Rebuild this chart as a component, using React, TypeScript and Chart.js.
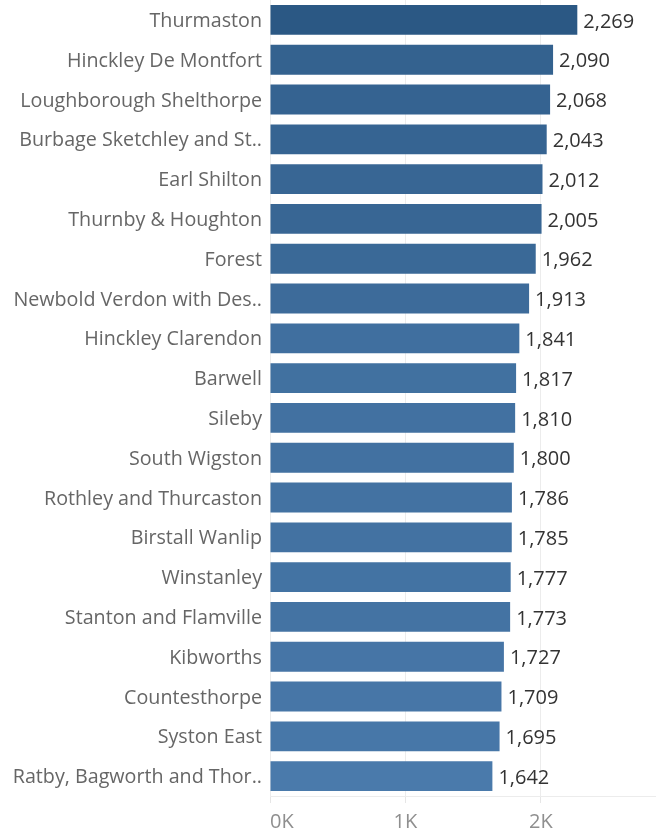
import React, { useEffect, useRef } from "react";
import { Chart, registerables } from "chart.js";

Chart.register(...registerables);

const wards: string[] = [
  "Thurmaston",
  "Hinckley De Montfort",
  "Loughborough Shelthorpe",
  "Burbage Sketchley and St..",
  "Earl Shilton",
  "Thurnby & Houghton",
  "Forest",
  "Newbold Verdon with Des..",
  "Hinckley Clarendon",
  "Barwell",
  "Sileby",
  "South Wigston",
  "Rothley and Thurcaston",
  "Birstall Wanlip",
  "Winstanley",
  "Stanton and Flamville",
  "Kibworths",
  "Countesthorpe",
  "Syston East",
  "Ratby, Bagworth and Thor..",
];

const values: number[] = [
  2269, 2090, 2068, 2043, 2012, 2005, 1962, 1913, 1841, 1817, 1810, 1800, 1786,
  1785, 1777, 1773, 1727, 1709, 1695, 1642,
];

const xTicks: number[] = [0, 1000, 2000];
const xMax = 2850;

const FONT = "'Open Sans', sans-serif";

function colorFor(v: number, lo: number, hi: number): string {
  const t = (v - lo) / (hi - lo);
  const light = [74, 122, 171];
  const dark = [43, 88, 132];
  const c = light.map((l, i) => Math.round(l + (dark[i] - l) * t));
  return `rgb(${c[0]},${c[1]},${c[2]})`;
}

const valueLabels = {
  id: "valueLabels",
  afterDatasetsDraw(chart: any) {
    const { ctx } = chart;
    const meta = chart.getDatasetMeta(0);
    ctx.save();
    ctx.font = `20px ${FONT}`;
    ctx.fillStyle = "#333333";
    ctx.textAlign = "left";
    ctx.textBaseline = "middle";
    meta.data.forEach((bar: any, i: number) => {
      const v = chart.data.datasets[0].data[i] as number;
      ctx.fillText(v.toLocaleString("en-US"), bar.x + 6, bar.y + 2);
    });
    ctx.restore();
  },
};

export default function App() {
  const ref = useRef<HTMLCanvasElement>(null);
  useEffect(() => {
    if (!ref.current) return;
    const lo = Math.min(...values);
    const hi = Math.max(...values);
    const chart = new Chart(ref.current, {
      type: "bar",
      data: {
        labels: wards,
        datasets: [
          {
            data: values,
            backgroundColor: values.map((v) => colorFor(v, lo, hi)),
            categoryPercentage: 1,
            barPercentage: 0.75,
          },
        ],
      },
      options: {
        indexAxis: "y",
        animation: false,
        responsive: true,
        maintainAspectRatio: false,
        layout: { padding: 0 },
        plugins: { legend: { display: false }, tooltip: { enabled: false } },
        scales: {
          x: {
            min: 0,
            max: xMax,
            afterBuildTicks: (scale: any) => {
              scale.ticks = [...xTicks, xMax].map((v) => ({ value: v }));
            },
            afterFit: (scale: any) => {
              scale.height = 38;
              scale.paddingLeft = 0;
              scale.paddingRight = 0;
            },
            grid: {
              color: (ctx: any) =>
                ctx.tick && ctx.tick.value === xMax ? "rgba(0,0,0,0)" : "#ececec",
              tickColor: (ctx: any) =>
                ctx.tick && ctx.tick.value === xMax ? "rgba(0,0,0,0)" : "#e6e6e6",
              tickLength: 7,
              lineWidth: 1,
            },
            border: { display: true, color: "#ececec" },
            ticks: {
              align: "inner",
              padding: 7,
              color: "#8f8f8f",
              font: { family: FONT, size: 20 },
              callback: (v: any) => (v === xMax ? "" : `${Number(v) / 1000}K`),
            },
          },
          y: {
            afterFit: (scale: any) => {
              scale.width = 270;
              scale.paddingTop = 0;
              scale.paddingBottom = 0;
            },
            grid: { display: false, drawTicks: false },
            border: { display: false },
            ticks: {
              padding: 8,
              labelOffset: 1.5,
              color: "#666666",
              font: { family: FONT, size: 19.7 },
            },
          },
        },
      },
      plugins: [valueLabels],
    });
    return () => chart.destroy();
  }, []);
  return (
    <div style={{ position: "absolute", left: 0, top: 0, width: 656, height: 834 }}>
      <canvas ref={ref} />
    </div>
  );
}
